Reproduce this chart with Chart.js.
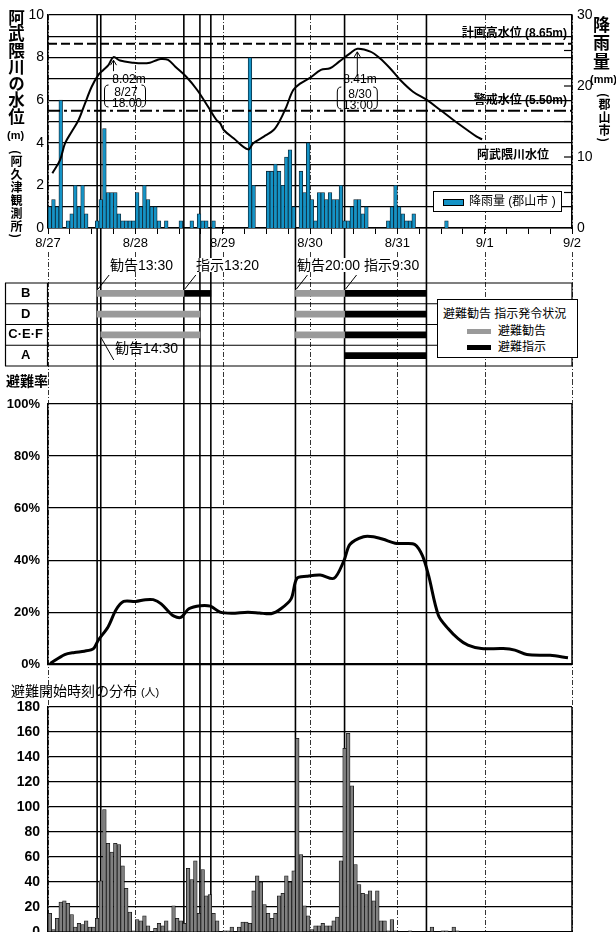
<!DOCTYPE html>
<html>
<head>
<meta charset="utf-8">
<script src="https://cdn.jsdelivr.net/npm/chart.js@4.4.1/dist/chart.umd.min.js"></script>
<style>
  html, body { margin: 0; padding: 0; background: #fff; overflow: hidden; }
  body { width: 616px; height: 932px; position: relative; color: #000;
         font-family: 'Liberation Sans', 'Noto Sans CJK JP', sans-serif; }
  canvas { position: absolute; left: 0; }
  .lbl { position: absolute; white-space: nowrap; line-height: 1; font-size: 12px; }
  .vt { position: absolute; writing-mode: vertical-rl; line-height: 1; font-weight: bold;
        font-family: 'Noto Sans CJK JP', sans-serif; }
  .b { font-weight: bold; }
  .c { transform: translateX(-50%); }
  .bg { background: #fff; }
</style>
</head>
<body>
<canvas id="level-chart" width="616" height="252" style="top:0"></canvas>
<canvas id="order-chart" width="616" height="128" style="top:252px"></canvas>
<canvas id="rate-chart" width="616" height="300" style="top:380px"></canvas>
<canvas id="start-chart" width="616" height="280" style="top:680px"></canvas>

<!-- axis titles -->
<div class="vt" style="left:8px;top:9px;font-size:16.5px">阿武隈川の水位</div>
<div class="lbl b" style="left:7px;top:130px;font-size:11px">(m)</div>
<div class="vt" style="left:10px;top:150px;font-size:12px;letter-spacing:1px">(阿久津観測所)</div>
<div class="vt" style="left:593px;top:16px;font-size:17px;letter-spacing:1.5px">降雨量</div>
<div class="lbl b" style="left:590px;top:74px;font-size:11px">(mm)</div>
<div class="vt" style="left:598px;top:93px;font-size:12px;letter-spacing:1px">(郡山市)</div>

<!-- water level notes -->
<div class="lbl b" style="right:49px;top:27px">計画高水位 (8.65m)</div>
<div class="lbl b" style="right:49px;top:94px">警戒水位 (5.50m)</div>
<div class="lbl b" style="left:477px;top:149px">阿武隈川水位</div>
<div class="lbl c" style="left:129px;top:73px">8.02m</div>
<div class="lbl c" style="left:126px;top:86px">8/27</div>
<div class="lbl c" style="left:127px;top:97px">18:00</div>
<div class="lbl c" style="left:360px;top:73px">8.41m</div>
<div class="lbl c" style="left:360px;top:88px">8/30</div>
<div class="lbl c" style="left:358px;top:99px">13:00</div>

<div style="position:absolute;left:433px;top:191px;width:129px;height:21px;box-sizing:border-box;border:1.5px solid #000;background:#fff">
  <div style="position:absolute;left:9px;top:7px;width:19px;height:5px;background:#1493c6;border:1px solid #000"></div>
  <div class="lbl" style="left:35px;top:3px">降雨量 (郡山市 )</div>
</div>

<!-- evacuation order notes -->
<div class="lbl bg" style="left:110px;top:258px;font-size:14px">勧告13:30</div>
<div class="lbl bg" style="left:196px;top:258px;font-size:14px">指示13:20</div>
<div class="lbl bg" style="left:297px;top:258px;font-size:14px">勧告20:00 指示9:30</div>
<div class="lbl" style="left:115px;top:341px;font-size:14px">勧告14:30</div>

<div style="position:absolute;left:437px;top:299px;width:141px;height:59px;box-sizing:border-box;border:1px solid #000;background:#fff">
  <div class="lbl" style="left:5px;top:8px">避難勧告 指示発令状況</div>
  <div style="position:absolute;left:29px;top:29px;width:24px;height:5px;background:#9a9a9a"></div>
  <div class="lbl" style="left:60px;top:25px">避難勧告</div>
  <div style="position:absolute;left:29px;top:45px;width:24px;height:5px;background:#000"></div>
  <div class="lbl" style="left:60px;top:41px">避難指示</div>
</div>

<div class="lbl b" style="left:6px;top:374px;font-size:14px">避難率</div>
<div class="lbl" style="left:11px;top:684px;font-size:14px">避難開始時刻の分布 <span style="font-size:11px">(人)</span></div>

<script>
Chart.defaults.font.family = "'Liberation Sans', 'Noto Sans CJK JP', sans-serif";
Chart.defaults.color = '#000';

// time axis: hours from 8/27 0:00
const dayLabels = ['8/27', '8/28', '8/29', '8/30', '8/31', '9/1', '9/2'];
const dayHours = [0, 24, 48, 72, 96, 120, 144];
const eventHours = [13.5, 14.5, 37.33, 41.75, 44.75, 68, 81.5, 104];

// 阿武隈川水位 (m)
const levelHours = [1.2, 3.3, 4.7, 6.5, 8.4, 10, 12, 13.8, 15.2, 16.6, 18, 19.8, 23.5, 26, 28, 30, 31, 33, 35, 38,
  41, 44, 46.3, 47.3, 48.3, 51, 55, 56.4, 59.3, 62, 63.8, 65.5, 67.4, 69.4, 72, 75, 77.5, 80, 83, 85,
  88.6, 91.2, 94, 96.8, 100.3, 104.2, 107.8, 111.4, 115.2, 117.8, 119.3];
const levelValues = [2.57, 3.19, 3.98, 4.52, 5.07, 5.77, 6.63, 7.18, 7.42, 7.65, 8.02, 7.86, 7.76, 7.73, 7.76, 7.89, 7.93, 7.89, 7.57, 7.1,
  6.48, 5.69, 5.07, 4.92, 4.6, 4.21, 3.69, 3.98, 4.29, 4.6, 5.07, 5.69, 6.48, 6.79, 7.05, 7.42, 7.5, 7.81, 8.2, 8.41,
  8.28, 7.97, 7.5, 6.95, 6.4, 6.0, 5.54, 5.07, 4.6, 4.29, 4.16];
const planLevel = 8.65;
const warnLevel = 5.5;
const peakHours = [18, 85];
const peakLevels = [8.02, 8.41];

// 降雨量 hourly (mm)
const rainMm = [
  3, 4, 3, 18, 0, 1, 2, 6, 3, 6, 2, 0,
  0, 1, 4, 14, 5, 5, 5, 2, 1, 1, 1, 1,
  5, 3, 6, 4, 3, 3, 1, 0, 1, 0, 0, 0,
  1, 0, 0, 1, 0, 2, 1, 1, 0, 1, 0, 0,
  0, 0, 0, 0, 0, 0, 0, 24, 6, 0, 0, 0,
  8, 8, 9, 8, 6, 10, 11, 3, 0, 8, 5, 12,
  4, 1, 5, 5, 4, 5, 4, 4, 6, 1, 1, 3,
  4, 4, 2, 3, 0, 0, 0, 0, 0, 1, 3, 6,
  3, 2, 1, 1, 2, 0, 0, 0, 0, 0, 0, 0,
  0, 1, 0, 0, 0, 0, 0, 0, 0, 0, 0, 0,
  0, 0, 0, 0, 0, 0, 0, 0, 0, 0, 0, 0,
  0, 0, 0, 0, 0, 0, 0, 0, 0, 0, 0, 0
];

// 避難勧告・指示 (start, end hours)
const rowLabels = ['B', 'D', 'C·E·F', 'A'];
const advisoryFirst = [[13.5, 37.33], [13.5, 41.75], [14.5, 41.75], null];
const orderFirst = [[37.33, 44.75], null, null, null];
const advisorySecond = [[68, 81.5], [68, 81.5], [68, 81.5], null];
const orderSecond = [[81.5, 104], [81.5, 104], [81.5, 104], [81.5, 104]];

// 避難率 (%)
const rateHours = [0.6, 4.6, 7.3, 10, 12.5, 13.8, 16.5, 18.7, 20.8, 24.1, 26.8, 28.9, 31.1, 34.3, 36.5, 38.7, 41.9, 44.6, 47.3, 50.5,
  54.9, 58.1, 61.3, 64, 66.8, 68.4, 71.1, 74.8, 78.6, 81.3, 83, 86.7, 89.4, 92.1, 95.4, 98.1, 100.8, 102.9, 104.6, 107.3,
  110, 112.7, 115.4, 119.1, 125.1, 128.3, 131.6, 138, 142.9];
const rateValues = [0.3, 3.7, 4.5, 5, 6, 9.2, 14.3, 20.9, 24.1, 24.1, 24.8, 24.8, 23.2, 18.7, 18, 21.3, 22.5, 22.3, 20, 19.6,
  20, 19.7, 19.4, 21.3, 25.1, 33, 33.8, 34.3, 33, 39.7, 46.1, 49, 49, 48, 46.5, 46.4, 46, 41.7, 34, 18.7,
  13.6, 9.8, 7.3, 6, 6, 5.4, 3.7, 3.4, 2.5];

// 避難開始時刻の分布 hourly (人)
const startCount = [
  15, 2, 11, 24, 25, 23, 14, 4, 7, 6, 9, 4,
  4, 11, 41, 98, 71, 64, 71, 70, 53, 35, 16, 1,
  10, 9, 13, 5, 0, 3, 7, 5, 9, 1, 21, 11,
  9, 7, 51, 42, 57, 15, 50, 29, 30, 15, 9, 0,
  1, 1, 4, 0, 4, 8, 8, 7, 33, 45, 40, 22,
  15, 11, 15, 29, 31, 45, 40, 49, 155, 62, 21, 13,
  2, 5, 5, 7, 5, 5, 9, 12, 57, 147, 159, 117,
  54, 38, 31, 30, 33, 25, 33, 9, 9, 1, 10, 1,
  0, 0, 0, 1, 0, 0, 0, 0, 0, 4, 0, 0,
  1, 1, 0, 4, 1, 0, 0, 0, 0, 0, 0, 0,
  0, 0, 0, 0, 0, 0, 0, 0, 0, 0, 0, 0,
  0, 0, 0, 0, 0, 0, 0, 0, 0, 0, 0, 0
];

function hLine(ctx, x0, x1, y) {
  ctx.beginPath(); ctx.moveTo(x0, y); ctx.lineTo(x1, y); ctx.stroke();
}
function vLine(ctx, x, y0, y1) {
  ctx.beginPath(); ctx.moveTo(x, y0); ctx.lineTo(x, y1); ctx.stroke();
}

// day lines (dash-dot) and the order / release lines running through every panel
function drawGuides(chart, dayTop, dayBottom, eventTop, eventBottom) {
  const ctx = chart.ctx;
  const x = chart.scales.x;
  ctx.save();
  ctx.strokeStyle = '#000';
  ctx.lineWidth = 0.8;
  ctx.setLineDash([5, 2, 1, 2]);
  dayHours.forEach(h => vLine(ctx, Math.round(x.getPixelForValue(h)) + 0.5, dayTop, dayBottom));
  ctx.setLineDash([]);
  ctx.lineWidth = 1.6;
  eventHours.forEach(h => vLine(ctx, x.getPixelForValue(h), eventTop, eventBottom));
  ctx.restore();
}

function bracket(ctx, xl, xr, yt, yb) {
  ctx.beginPath();
  ctx.moveTo(xl + 4, yt); ctx.quadraticCurveTo(xl, yt, xl, yt + 5);
  ctx.lineTo(xl, yb - 5); ctx.quadraticCurveTo(xl, yb, xl + 4, yb);
  ctx.moveTo(xr - 4, yt); ctx.quadraticCurveTo(xr, yt, xr, yt + 5);
  ctx.lineTo(xr, yb - 5); ctx.quadraticCurveTo(xr, yb, xr - 4, yb);
  ctx.stroke();
}

const levelDecor = {
  id: 'levelDecor',
  beforeDatasetsDraw(chart) {
    const ca = chart.chartArea;
    drawGuides(chart, ca.top, ca.bottom + 6, ca.top, chart.height);
  },
  afterDatasetsDraw(chart) {
    const {ctx, chartArea: ca, scales: {x, y, y2}} = chart;
    ctx.save();
    ctx.strokeStyle = '#000';
    ctx.lineWidth = 2;
    ctx.setLineDash([9, 4]);
    hLine(ctx, ca.left, ca.right, y.getPixelForValue(planLevel));
    ctx.setLineDash([12, 4, 3, 4]);
    hLine(ctx, ca.left, ca.right, y.getPixelForValue(warnLevel));
    ctx.setLineDash([]);

    // inner ticks of the rain axis
    ctx.lineWidth = 1.2;
    [5, 10, 15, 20, 25].forEach(v => hLine(ctx, ca.right - 8, ca.right, y2.getPixelForValue(v)));

    // peak arrows and brackets
    ctx.lineWidth = 1;
    const spans = [[-9, 32, 85, 107, 14], [-20, 20, 87, 109, 27]];
    peakHours.forEach((h, i) => {
      const px = x.getPixelForValue(h);
      const py = y.getPixelForValue(peakLevels[i]);
      const s = spans[i];
      vLine(ctx, px, py + 3, py + s[4]);
      ctx.beginPath();
      ctx.moveTo(px - 3, py + 8); ctx.lineTo(px, py + 3); ctx.lineTo(px + 3, py + 8);
      ctx.stroke();
      bracket(ctx, px + s[0], px + s[1], s[2], s[3]);
    });
    ctx.restore();
  }
};

const tableDecor = {
  id: 'tableDecor',
  beforeDatasetsDraw(chart) {
    const {ctx, chartArea: ca} = chart;
    drawGuides(chart, 0, chart.height, 0, chart.height);
    ctx.save();
    ctx.strokeStyle = '#000';
    ctx.lineWidth = 1.2;
    const band = (ca.bottom - ca.top) / rowLabels.length;
    for (let i = 0; i <= rowLabels.length; i++) {
      hLine(ctx, 5, ca.right, ca.top + band * i);
    }
    vLine(ctx, 5.5, ca.top, ca.bottom);
    vLine(ctx, ca.left - 0.5, ca.top, ca.bottom);
    vLine(ctx, ca.right, ca.top, ca.bottom);
    ctx.restore();
  },
  afterDatasetsDraw(chart) {
    const {ctx, chartArea: ca, scales: {x}} = chart;
    ctx.save();
    ctx.strokeStyle = '#000';
    ctx.lineWidth = 1;
    [13.5, 37.33, 68, 81.5].forEach(h => {
      const px = x.getPixelForValue(h);
      ctx.beginPath(); ctx.moveTo(px + 12, 23); ctx.lineTo(px + 1, ca.top + 6); ctx.stroke();
    });
    const px = x.getPixelForValue(14.5);
    ctx.beginPath(); ctx.moveTo(px, ca.top + 54); ctx.lineTo(px + 13, ca.top + 77); ctx.stroke();
    ctx.restore();
  }
};

const panelDecor = {
  id: 'panelDecor',
  beforeDatasetsDraw(chart) {
    drawGuides(chart, 0, chart.height, 0, chart.height);
  },
  afterDraw(chart) {
    const {ctx, chartArea: ca} = chart;
    ctx.save();
    ctx.strokeStyle = '#000';
    ctx.lineWidth = 1.5;
    vLine(ctx, ca.right, ca.top, ca.bottom);
    ctx.restore();
  }
};

// water level and rainfall
const levelChart = new Chart(document.querySelector('#level-chart'), {
  type: 'bar',
  data: {
    datasets: [{
      type: 'line',
      data: levelHours.map((h, i) => ({x: h, y: levelValues[i]})),
      borderColor: '#000',
      borderWidth: 2,
      pointRadius: 0,
      tension: 0.35,
      yAxisID: 'y',
      order: 0
    }, {
      type: 'bar',
      data: rainMm.map((v, i) => ({x: i + 0.5, y: v})).filter(p => p.y > 0),
      backgroundColor: '#1493c6',
      borderColor: '#0a2230',
      borderWidth: 0.8,
      barPercentage: 1,
      categoryPercentage: 1,
      yAxisID: 'y2',
      order: 1
    }]
  },
  options: {
    responsive: false,
    animation: false,
    layout: { padding: { top: 15, left: 0, right: 0, bottom: 0 } },
    plugins: { legend: { display: false }, tooltip: { enabled: false } },
    scales: {
      x: {
        type: 'linear', min: 0, max: 144, offset: false,
        grid: { offset: false, drawOnChartArea: false, color: '#000', tickLength: 6 },
        border: { color: '#000', width: 1.5 },
        ticks: {
          stepSize: 6, autoSkip: false, maxRotation: 0, padding: 2, font: { size: 13 },
          callback: v => v % 24 === 0 ? dayLabels[v / 24] : ''
        },
        afterFit: s => { s.height = 24; }
      },
      y: {
        position: 'left', min: 0, max: 10,
        grid: { color: '#000', lineWidth: 1.2, drawTicks: false },
        border: { color: '#000', width: 1.5 },
        ticks: { stepSize: 1, padding: 4, font: { size: 14 }, callback: v => v % 2 === 0 ? v : '' },
        afterFit: s => { s.width = 48; }
      },
      y2: {
        position: 'right', min: 0, max: 30,
        grid: { display: false, drawTicks: false },
        border: { color: '#000', width: 1.5 },
        ticks: { stepSize: 5, padding: 5, font: { size: 14 }, callback: v => v % 10 === 0 ? v : '' },
        afterFit: s => { s.width = 44; }
      }
    }
  },
  plugins: [levelDecor]
});

// evacuation advisory / order table
const orderChart = new Chart(document.querySelector('#order-chart'), {
  type: 'bar',
  data: {
    labels: rowLabels,
    datasets: [
      { data: advisoryFirst, backgroundColor: '#9a9a9a' },
      { data: orderFirst, backgroundColor: '#000' },
      { data: advisorySecond, backgroundColor: '#9a9a9a' },
      { data: orderSecond, backgroundColor: '#000' }
    ]
  },
  options: {
    indexAxis: 'y',
    responsive: false,
    animation: false,
    datasets: { bar: { grouped: false, barThickness: 6 } },
    layout: { padding: { top: 31, bottom: 14, left: 5, right: 44 } },
    plugins: { legend: { display: false }, tooltip: { enabled: false } },
    scales: {
      x: { type: 'linear', min: 0, max: 144, display: false },
      y: {
        grid: { display: false, drawTicks: false },
        border: { display: false },
        ticks: { crossAlign: 'center', padding: 5, font: { size: 13, weight: 'bold' } },
        afterFit: s => { s.width = 43; }
      }
    }
  },
  plugins: [tableDecor]
});

// evacuation rate
const rateChart = new Chart(document.querySelector('#rate-chart'), {
  type: 'line',
  data: {
    datasets: [{
      data: rateHours.map((h, i) => ({x: h, y: rateValues[i]})),
      borderColor: '#000',
      borderWidth: 3,
      pointRadius: 0,
      tension: 0.3
    }]
  },
  options: {
    responsive: false,
    animation: false,
    layout: { padding: { top: 24, right: 44, left: 0, bottom: 0 } },
    plugins: { legend: { display: false }, tooltip: { enabled: false } },
    scales: {
      x: {
        type: 'linear', min: 0, max: 144,
        ticks: { display: false },
        grid: { drawOnChartArea: false, drawTicks: false },
        border: { color: '#000', width: 1.5 },
        afterFit: s => { s.height = 15; }
      },
      y: {
        min: 0, max: 100,
        grid: { color: '#000', lineWidth: 1.2, drawTicks: false },
        border: { color: '#000', width: 1.5 },
        ticks: { stepSize: 20, padding: 8, font: { size: 13, weight: 'bold' }, callback: v => v + '%' },
        afterFit: s => { s.width = 48; }
      }
    }
  },
  plugins: [panelDecor]
});

// distribution of evacuation start times
const startChart = new Chart(document.querySelector('#start-chart'), {
  type: 'bar',
  data: {
    datasets: [{
      data: startCount.map((v, i) => ({x: i + 0.5, y: v})).filter(p => p.y > 0),
      backgroundColor: '#808080',
      borderColor: '#111',
      borderWidth: 0.8,
      barPercentage: 1,
      categoryPercentage: 1
    }]
  },
  options: {
    responsive: false,
    animation: false,
    layout: { padding: { top: 27, right: 44, left: 0, bottom: 0 } },
    plugins: { legend: { display: false }, tooltip: { enabled: false } },
    scales: {
      x: {
        type: 'linear', min: 0, max: 144, offset: false,
        grid: { offset: false, drawOnChartArea: false },
        border: { color: '#000', width: 1.5 },
        ticks: { stepSize: 24, maxRotation: 0, font: { size: 13 }, callback: v => dayLabels[v / 24] },
        afterFit: s => { s.height = 28; }
      },
      y: {
        min: 0, max: 180,
        grid: { color: '#000', lineWidth: 1.2, drawTicks: false },
        border: { color: '#000', width: 1.5 },
        ticks: { stepSize: 20, padding: 8, font: { size: 14, weight: 'bold' } },
        afterFit: s => { s.width = 48; }
      }
    }
  },
  plugins: [panelDecor]
});
</script>
</body>
</html>
